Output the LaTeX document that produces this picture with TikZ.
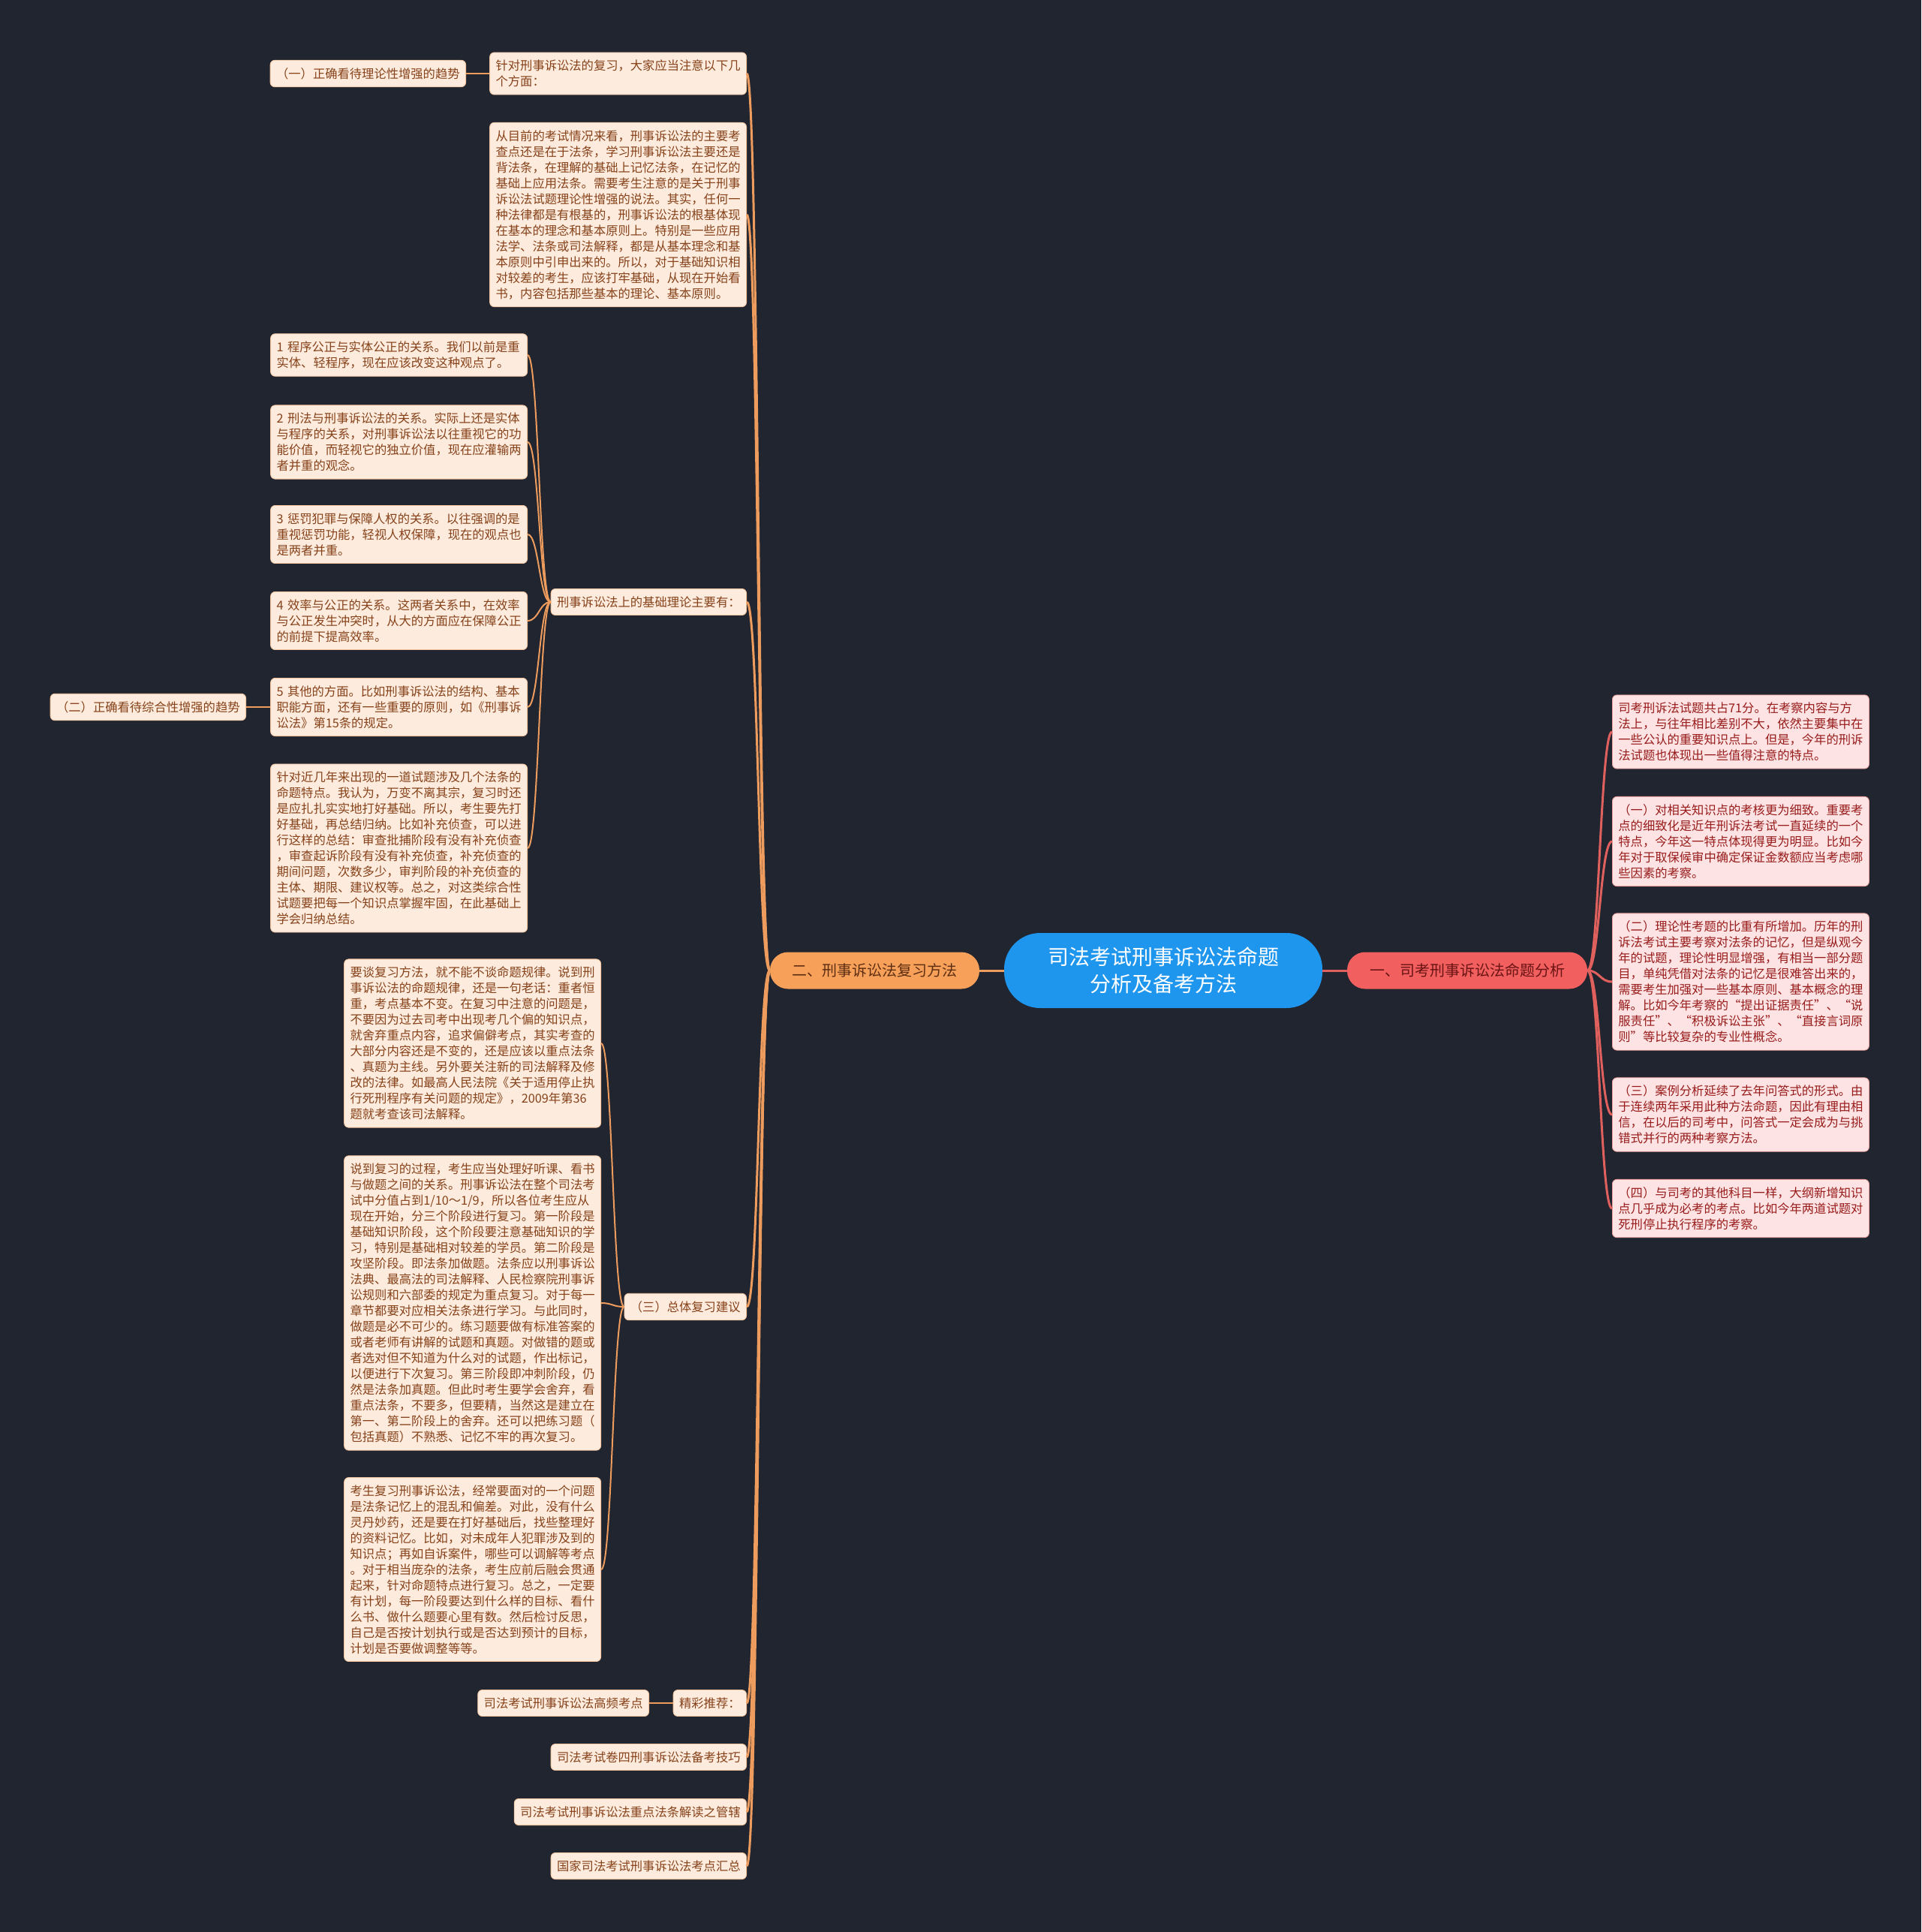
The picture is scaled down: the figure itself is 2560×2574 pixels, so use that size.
\documentclass[tikz,border=0pt]{standalone}
\usepackage{fontspec}
\setmainfont{Noto Sans CJK SC}
\definecolor{pagebg}{HTML}{21252F}
\definecolor{rootblue}{HTML}{1E96EE}
\definecolor{leftorange}{HTML}{F7A05A}
\definecolor{rightred}{HTML}{F25F5F}
\definecolor{leftleaf}{HTML}{FDEBDD}
\definecolor{rightleaf}{HTML}{FDE3E3}
\definecolor{lefttext}{HTML}{86421A}
\definecolor{righttext}{HTML}{981C1C}
\definecolor{leftline}{HTML}{EE9C5E}
\definecolor{rightline}{HTML}{E0605E}

\begin{document}
\begin{tikzpicture}[x=1pt, y=-1pt,
    root/.style={fill=rootblue, text=white, rounded corners=48pt,
                 minimum width=424pt, minimum height=100pt, align=center,
                 font=\fontsize{28}{36}\selectfont},
    branchl/.style={fill=leftorange, text=lefttext!70!black, rounded corners=24pt,
                    minimum width=279pt, minimum height=49pt, font=\fontsize{20}{24}\selectfont},
    branchr/.style={fill=rightred, text=righttext!70!black, rounded corners=24pt,
                    minimum width=320pt, minimum height=49pt, font=\fontsize{20}{24}\selectfont},
    leafl/.style={draw=leftline!60, line width=0.8pt, fill=leftleaf, text=lefttext,
                  rounded corners=6pt, align=left, inner xsep=8pt, inner ysep=10pt,
                  font=\fontsize{16.3}{21}\selectfont},
    wide/.style={text width=326pt},
    leafr/.style={leafl, draw=rightline!60, fill=rightleaf, text=righttext, wide},
    linel/.style={draw=leftline, line width=3pt},
    subl/.style={draw=leftline, line width=2pt},
    liner/.style={draw=rightline, line width=3pt}
  ]
    \useasboundingbox (0,0) rectangle (2560,2574);
    \fill[pagebg] (0,0) rectangle (2560,2574);

    % centre and main branches
    \node[root] (ctr) at (1550,1293) {司法考试刑事诉讼法命题\\分析及备考方法};
    \node[branchl] (lb) at (1165.5,1293) {二、刑事诉讼法复习方法};
    \node[branchr] (rb) at (1955,1293) {一、司考刑事诉讼法命题分析};

    % right side
    \node[leafr, anchor=west] (r1) at (2148,975) {司考刑诉法试题共占71分。在考察内容与方\\法上，与往年相比差别不大，依然主要集中在\\一些公认的重要知识点上。但是，今年的刑诉\\法试题也体现出一些值得注意的特点。};
    \node[leafr, anchor=west] (r2) at (2148,1121) {（一）对相关知识点的考核更为细致。重要考\\点的细致化是近年刑诉法考试一直延续的一个\\特点，今年这一特点体现得更为明显。比如今\\年对于取保候审中确定保证金数额应当考虑哪\\些因素的考察。};
    \node[leafr, anchor=west] (r3) at (2148,1308) {（二）理论性考题的比重有所增加。历年的刑\\诉法考试主要考察对法条的记忆，但是纵观今\\年的试题，理论性明显增强，有相当一部分题\\目，单纯凭借对法条的记忆是很难答出来的，\\需要考生加强对一些基本原则、基本概念的理\\解。比如今年考察的“提出证据责任”、“说\\服责任”、“积极诉讼主张”、“直接言词原\\则”等比较复杂的专业性概念。};
    \node[leafr, anchor=west] (r4) at (2148,1485) {（三）案例分析延续了去年问答式的形式。由\\于连续两年采用此种方法命题，因此有理由相\\信，在以后的司考中，问答式一定会成为与挑\\错式并行的两种考察方法。};
    \node[leafr, anchor=west] (r5) at (2148,1610) {（四）与司考的其他科目一样，大纲新增知识\\点几乎成为必考的考点。比如今年两道试题对\\死刑停止执行程序的考察。};

    % left side, first level
    \node[leafl, wide, anchor=east] (l1) at (995,98) {针对刑事诉讼法的复习，大家应当注意以下几\\个方面：};
    \node[leafl, anchor=east] (a0) at (621,98) {（一）正确看待理论性增强的趋势};
    \node[leafl, wide, anchor=east] (l2) at (995,286) {从目前的考试情况来看，刑事诉讼法的主要考\\查点还是在于法条，学习刑事诉讼法主要还是\\背法条，在理解的基础上记忆法条，在记忆的\\基础上应用法条。需要考生注意的是关于刑事\\诉讼法试题理论性增强的说法。其实，任何一\\种法律都是有根基的，刑事诉讼法的根基体现\\在基本的理念和基本原则上。特别是一些应用\\法学、法条或司法解释，都是从基本理念和基\\本原则中引申出来的。所以，对于基础知识相\\对较差的考生，应该打牢基础，从现在开始看\\书，内容包括那些基本的理论、基本原则。};
    \node[leafl, anchor=east] (l3) at (995,802) {刑事诉讼法上的基础理论主要有：};
    \node[leafl, anchor=east] (l5) at (995,1741) {（三）总体复习建议};
    \node[leafl, anchor=east] (l6) at (995,2269) {精彩推荐：};
    \node[leafl, anchor=east] (l6c) at (865,2269) {司法考试刑事诉讼法高频考点};
    \node[leafl, anchor=east] (l7) at (995,2341) {司法考试卷四刑事诉讼法备考技巧};
    \node[leafl, anchor=east] (l8) at (995,2414) {司法考试刑事诉讼法重点法条解读之管辖};
    \node[leafl, anchor=east] (l9) at (995,2486) {国家司法考试刑事诉讼法考点汇总};

    % basic theory items
    \node[leafl, wide, anchor=east] (i1) at (703,473) {1 程序公正与实体公正的关系。我们以前是重\\实体、轻程序，现在应该改变这种观点了。};
    \node[leafl, wide, anchor=east] (i2) at (703,589) {2 刑法与刑事诉讼法的关系。实际上还是实体\\与程序的关系，对刑事诉讼法以往重视它的功\\能价值，而轻视它的独立价值，现在应灌输两\\者并重的观念。};
    \node[leafl, wide, anchor=east] (i3) at (703,712) {3 惩罚犯罪与保障人权的关系。以往强调的是\\重视惩罚功能，轻视人权保障，现在的观点也\\是两者并重。};
    \node[leafl, wide, anchor=east] (i4) at (703,827) {4 效率与公正的关系。这两者关系中，在效率\\与公正发生冲突时，从大的方面应在保障公正\\的前提下提高效率。};
    \node[leafl, wide, anchor=east] (i5) at (703,942) {5 其他的方面。比如刑事诉讼法的结构、基本\\职能方面，还有一些重要的原则，如《刑事诉\\讼法》第15条的规定。};
    \node[leafl, anchor=east] (a1) at (328,942) {（二）正确看待综合性增强的趋势};
    \node[leafl, wide, anchor=east] (l4) at (703,1130) {针对近几年来出现的一道试题涉及几个法条的\\命题特点。我认为，万变不离其宗，复习时还\\是应扎扎实实地打好基础。所以，考生要先打\\好基础，再总结归纳。比如补充侦查，可以进\\行这样的总结：审查批捕阶段有没有补充侦查\\，审查起诉阶段有没有补充侦查，补充侦查的\\期间问题，次数多少，审判阶段的补充侦查的\\主体、期限、建议权等。总之，对这类综合性\\试题要把每一个知识点掌握牢固，在此基础上\\学会归纳总结。};

    % review advice
    \node[leafl, wide, anchor=east] (p1) at (801,1390) {要谈复习方法，就不能不谈命题规律。说到刑\\事诉讼法的命题规律，还是一句老话：重者恒\\重，考点基本不变。在复习中注意的问题是，\\不要因为过去司考中出现考几个偏的知识点，\\就舍弃重点内容，追求偏僻考点，其实考查的\\大部分内容还是不变的，还是应该以重点法条\\、真题为主线。另外要关注新的司法解释及修\\改的法律。如最高人民法院《关于适用停止执\\行死刑程序有关问题的规定》，2009年第36\\题就考查该司法解释。};
    \node[leafl, wide, anchor=east] (p2) at (801,1736) {说到复习的过程，考生应当处理好听课、看书\\与做题之间的关系。刑事诉讼法在整个司法考\\试中分值占到1/10～1/9，所以各位考生应从\\现在开始，分三个阶段进行复习。第一阶段是\\基础知识阶段，这个阶段要注意基础知识的学\\习，特别是基础相对较差的学员。第二阶段是\\攻坚阶段。即法条加做题。法条应以刑事诉讼\\法典、最高法的司法解释、人民检察院刑事诉\\讼规则和六部委的规定为重点复习。对于每一\\章节都要对应相关法条进行学习。与此同时，\\做题是必不可少的。练习题要做有标准答案的\\或者老师有讲解的试题和真题。对做错的题或\\者选对但不知道为什么对的试题，作出标记，\\以便进行下次复习。第三阶段即冲刺阶段，仍\\然是法条加真题。但此时考生要学会舍弃，看\\重点法条，不要多，但要精，当然这是建立在\\第一、第二阶段上的舍弃。还可以把练习题（\\包括真题）不熟悉、记忆不牢的再次复习。};
    \node[leafl, wide, anchor=east] (p3) at (801,2091) {考生复习刑事诉讼法，经常要面对的一个问题\\是法条记忆上的混乱和偏差。对此，没有什么\\灵丹妙药，还是要在打好基础后，找些整理好\\的资料记忆。比如，对未成年人犯罪涉及到的\\知识点；再如自诉案件，哪些可以调解等考点\\。对于相当庞杂的法条，考生应前后融会贯通\\起来，针对命题特点进行复习。总之，一定要\\有计划，每一阶段要达到什么样的目标、看什\\么书、做什么题要心里有数。然后检讨反思，\\自己是否按计划执行或是否达到预计的目标，\\计划是否要做调整等等。};

    % connectors
    \draw[linel] (ctr.west) -- (lb.east);
    \draw[liner] (ctr.east) -- (rb.west);
    \foreach \n in {r1,r2,r3,r4,r5}
      \draw[liner] (rb.east) .. controls +(16,0) and +(-16,0) .. (\n.west);
    \foreach \n in {l1,l2,l3,l5,l6,l7,l8,l9}
      \draw[linel] (lb.west) .. controls +(-16,0) and +(16,0) .. (\n.east);
    \foreach \n in {i1,i2,i3,i4,i5,l4}
      \draw[subl] (l3.west) .. controls +(-15,0) and +(15,0) .. (\n.east);
    \foreach \n in {p1,p2,p3}
      \draw[subl] (l5.west) .. controls +(-15,0) and +(15,0) .. (\n.east);
    \draw[subl] (l1.west) -- (a0.east);
    \draw[subl] (i5.west) -- (a1.east);
    \draw[subl] (l6.west) -- (l6c.east);
  \end{tikzpicture}
\end{document}
